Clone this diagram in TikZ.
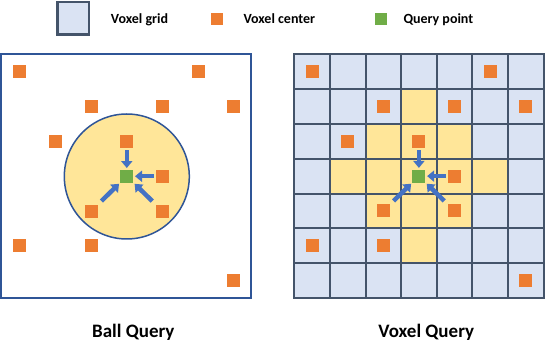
\documentclass[tikz,border=0pt]{standalone}
\usepackage{fontspec}
\setmainfont{Carlito}
\usetikzlibrary{arrows.meta}
\definecolor{vorange}{HTML}{ED7D31}
\definecolor{vgreen}{HTML}{70AD47}
\definecolor{vyellow}{HTML}{FFE699}
\definecolor{vlblue}{HTML}{DAE3F3}
\definecolor{vslate}{HTML}{44546A}
\definecolor{vblue}{HTML}{4472C4}
\definecolor{vdblue}{HTML}{2F5597}
\begin{document}
\begin{tikzpicture}[x=1pt,y=-1pt,
  center/.style={rectangle, fill=vorange, minimum size=13pt, inner sep=0pt},
  query/.style={rectangle, fill=vgreen, minimum size=13pt, inner sep=0pt},
  pull/.style={draw=vblue, line width=4.5pt, -{Triangle[width=11pt,length=7pt]}, shorten <=2pt, shorten >=1.5pt},
  legtext/.style={font=\bfseries\fontsize{14}{16}\selectfont, anchor=base west, inner sep=0pt},
  title/.style={font=\bfseries\fontsize{19}{22}\selectfont, anchor=base, inner sep=0pt},
  gridline/.style={draw=vslate, line width=2pt, line cap=rect}]
\useasboundingbox (0,0) rectangle (546,344);

% legend
\node[draw=vslate, fill=vlblue, line width=2.5pt, minimum width=31.5pt, minimum height=32.5pt, inner sep=0pt] (lg) at (73,18.5) {};
\node[legtext] (lgt) at (110.7,23.5) {Voxel grid};
\node[center, minimum size=12pt] (lc) at (216.8,18.7) {};
\node[legtext] (lct) at (243.3,23.5) {Voxel center};
\node[query, minimum size=12pt] (lq) at (380.5,18.7) {};
\node[legtext] (lqt) at (403.3,23.5) {Query point};

% left panel: ball query
\node[draw=vdblue, line width=2pt, minimum width=250pt, minimum height=244pt, inner sep=0pt] (ballbox) at (126,176.3) {};
\node[circle, draw=vdblue, fill=vyellow, line width=1.5pt, minimum size=125pt, inner sep=0pt] (ball) at (126.8,176.5) {};
\foreach \c/\r in {0/0,5/0,2/1,4/1,6/1,1/2,3/2,4/3,2/4,4/4,0/5,2/5,6/6}
  \node[center] (L\c\r) at ({1.8+250/7*(\c+0.5)},{54.3+243.9/7*(\r+0.5)}) {};
\node[query] (Lq) at ({1.8+250/7*3.5},{54.3+243.9/7*3.5}) {};
\draw[pull] (L32) -- (Lq);
\draw[pull] (L43) -- (Lq);
\draw[pull, shorten <=5pt] (L24) -- (Lq);
\draw[pull, shorten <=5pt] (L44) -- (Lq);

% right panel: voxel query
\fill[vlblue] (294.3,54.3) rectangle (543.5,298);
\foreach \c/\r in {3/1,2/2,3/2,4/2,1/3,2/3,3/3,4/3,5/3,2/4,3/4,4/4,3/5}
  \fill[vyellow] ({294.3+35.6*\c},{54.3+34.81*\r}) rectangle ++(35.6,34.81);
\foreach \i in {0,...,7} {
  \draw[gridline] ({294.3+35.6*\i},54.3) -- ++(0,243.7);
  \draw[gridline] (294.3,{54.3+34.81*\i}) -- ++(249.2,0);
}
\foreach \c/\r in {0/0,5/0,2/1,4/1,6/1,1/2,3/2,4/3,2/4,4/4,0/5,2/5,6/6}
  \node[center] (R\c\r) at ({294.3+35.6*(\c+0.5)},{54.3+34.81*(\r+0.5)}) {};
\node[query] (Rq) at ({294.3+35.6*3.5},{54.3+34.81*3.5}) {};
\draw[pull] (R32) -- (Rq);
\draw[pull] (R43) -- (Rq);
\draw[pull, shorten <=5pt] (R24) -- (Rq);
\draw[pull, shorten <=5pt] (R44) -- (Rq);

% titles
\node[title] (t1) at (133.3,338) {Ball Query};
\node[title] (t2) at (426.3,338) {Voxel Query};
\end{tikzpicture}
\end{document}
